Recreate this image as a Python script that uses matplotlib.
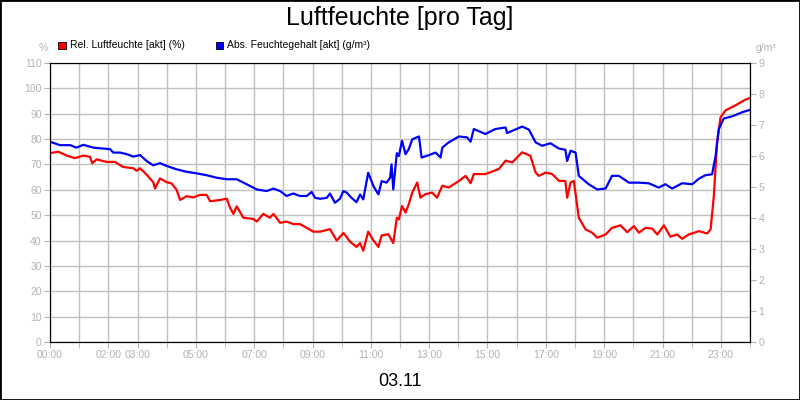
import matplotlib
matplotlib.use("Agg")
import matplotlib.pyplot as plt
from matplotlib.patches import Rectangle

plt.rcParams["font.family"] = ["Liberation Sans", "DejaVu Sans"]

# ---------------- data (hours of day) ----------------
rel_hours = [0.00, 0.29, 0.57, 0.86, 1.14, 1.37, 1.45, 1.60, 1.94, 2.23, 2.29, 2.51, 2.86, 2.97,
             3.09, 3.31, 3.54, 3.60, 3.77, 4.00, 4.17, 4.34, 4.46, 4.69, 4.91, 5.14, 5.37, 5.49,
             5.83, 6.06, 6.17, 6.29, 6.40, 6.63, 6.97, 7.09, 7.31, 7.54, 7.66, 7.89, 8.11, 8.34,
             8.57, 8.80, 9.03, 9.26, 9.60, 9.83, 10.06, 10.29, 10.51, 10.63, 10.74, 10.91, 11.09,
             11.26, 11.37, 11.60, 11.77, 11.89,
             11.96, 12.07, 12.19, 12.30, 12.42, 12.59, 12.70, 12.87, 13.10, 13.27, 13.45, 13.67,
             14.02, 14.25, 14.42, 14.53, 14.93, 15.39, 15.62, 15.85, 16.19, 16.47, 16.65, 16.76,
             16.99, 17.22, 17.45, 17.67, 17.73, 17.85, 17.96, 18.13, 18.36, 18.59, 18.76, 19.05,
             19.27, 19.56, 19.79, 20.02, 20.19, 20.42, 20.65, 20.82, 21.05, 21.27, 21.50, 21.67,
             21.90, 22.25, 22.53, 22.65, 22.76, 22.87, 22.99, 23.16, 23.50, 23.85, 24.00]
rel_values = [74.5, 75, 73.5, 72.5, 73.5, 73, 70.5, 72, 71, 71, 70.5, 69, 68.5, 67.5,
              68.5, 66, 63, 60.5, 64.5, 63, 62.5, 60, 56, 57.5, 57, 58, 58, 55.5,
              56, 56.5, 53, 50.5, 53.5, 49, 48.5, 47.5, 50.5, 49, 50.5, 47, 47.5, 46.5,
              46.5, 45, 43.5, 43.5, 44.5, 40, 43, 39.5, 37.5, 39, 36, 43.5, 40,
              37.5, 42, 42.5, 39, 49,
              48.3, 53.6, 51, 54.3, 58.9, 62.9, 56.9, 58.3, 58.9, 56.9, 61.6, 60.9,
              63.5, 65.5, 62.6, 66.2, 66.2, 68.2, 71.5, 70.8, 74.8, 73.4, 66.8, 65.5,
              66.8, 66.2, 63.5, 63.5, 56.9, 62.9, 63.5, 49, 44.4, 43.1, 41.1, 42.4,
              45, 46, 43.3, 45.7, 43.1, 45, 44.7, 42.4, 46, 41.5, 42.4, 40.7,
              42.4, 43.7, 42.8, 44.4, 57.6, 78.7, 88.6, 91.3, 93.3, 95.6, 96.2]

abs_hours = [0.00, 0.34, 0.69, 0.91, 1.14, 1.49, 1.71, 2.06, 2.17, 2.40, 2.63, 2.86, 3.09, 3.31,
             3.54, 3.77, 4.00, 4.34, 4.69, 5.03, 5.37, 5.71, 6.06, 6.40, 6.74, 7.09, 7.43, 7.66,
             7.89, 8.11, 8.34, 8.57, 8.80, 8.97, 9.09, 9.26, 9.49, 9.60, 9.77, 9.94, 10.06, 10.17,
             10.34, 10.51, 10.63, 10.74, 10.91, 11.09, 11.26, 11.37, 11.54, 11.66, 11.71, 11.77, 11.89,
             11.96, 12.07, 12.19, 12.30, 12.42, 12.65, 12.74, 12.99, 13.22, 13.39, 13.45, 13.67,
             14.02, 14.30, 14.42, 14.53, 14.93, 15.27, 15.62, 15.67, 16.19, 16.42, 16.65, 16.87,
             17.16, 17.45, 17.67, 17.73, 17.85, 18.02, 18.13, 18.47, 18.76, 19.05, 19.27, 19.50,
             19.85, 20.19, 20.53, 20.87, 21.10, 21.33, 21.67, 22.02, 22.25, 22.47, 22.70, 22.82,
             22.93, 23.10, 23.39, 23.73, 24.00]
abs_values = [6.46, 6.35, 6.35, 6.27, 6.36, 6.27, 6.25, 6.22, 6.11, 6.11, 6.06, 5.98, 6.03, 5.84,
              5.70, 5.77, 5.68, 5.57, 5.49, 5.44, 5.38, 5.30, 5.25, 5.25, 5.09, 4.92, 4.87, 4.95,
              4.87, 4.71, 4.79, 4.71, 4.71, 4.84, 4.65, 4.62, 4.65, 4.79, 4.49, 4.62, 4.87, 4.82,
              4.65, 4.51, 4.76, 4.60, 5.46, 5.03, 4.76, 5.19, 5.14, 5.30, 5.73, 4.92, 6.09,
              6.00, 6.49, 6.06, 6.22, 6.54, 6.63, 5.95, 6.03, 6.11, 5.95, 6.27, 6.44,
              6.63, 6.60, 6.46, 6.87, 6.71, 6.87, 6.92, 6.74, 6.95, 6.85, 6.44, 6.33,
              6.41, 6.24, 6.20, 5.84, 6.17, 6.11, 5.36, 5.09, 4.92, 4.95, 5.36, 5.36,
              5.14, 5.14, 5.12, 4.98, 5.09, 4.95, 5.12, 5.09, 5.27, 5.38, 5.41, 6.00,
              6.87, 7.21, 7.28, 7.41, 7.49]

tick_hours = [0, 2, 3, 5, 7, 9, 11, 13, 15, 17, 19, 21, 23]
tick_labels = ["00:00", "02:00", "03:00", "05:00", "07:00", "09:00", "11:00",
               "13:00", "15:00", "17:00", "19:00", "21:00", "23:00"]

# ---------------- plot ----------------
gray = "#b4b4b4"
fig = plt.figure(figsize=(8, 4), dpi=100)
fig.patches.append(Rectangle((0, 0), 1, 1, transform=fig.transFigure,
                             fill=False, edgecolor="black", linewidth=2))

ax = fig.add_axes([0.0625, 0.145, 0.875, 0.6975])
ax2 = ax.twinx()

ax.plot(rel_hours, rel_values, color="red", linewidth=1.6)
ax2.plot(abs_hours, abs_values, color="blue", linewidth=1.6)

ax.set_xlim(0, 24)
ax.set_ylim(0, 110)
ax2.set_ylim(0, 9)
ax.set_yticks(range(0, 111, 10))
ax2.set_yticks(range(0, 10))
ax.set_xticks(range(0, 25), minor=True)
ax.set_xticks(tick_hours)
ax.set_xticklabels(tick_labels)
ax.grid(True, which="both", axis="x", color="#c0c0c0", linewidth=1)
ax.grid(True, which="major", axis="y", color="#c0c0c0", linewidth=1)
ax.set_axisbelow(True)

for a in (ax, ax2):
    a.tick_params(which="both", direction="out", length=4, color=gray,
                  labelcolor=gray, labelsize=7.5, pad=2)
    for s in a.spines.values():
        s.set_color("black")
ax.tick_params(axis="x", which="minor", length=4)

fig.text(0.5, 0.955, "Luftfeuchte [pro Tag]", ha="center", va="center", fontsize=18)
fig.text(0.5, 0.045, "03.11", ha="center", va="center", fontsize=13)
fig.text(0.054, 0.88, "%", ha="center", va="center", fontsize=7.5, color=gray)
fig.text(0.958, 0.88, "g/m³", ha="center", va="center", fontsize=7.5, color=gray)

# legend drawn as small squares with labels
for xpos, col, lab in [(0.073, "red", "Rel. Luftfeuchte [akt] (%)"),
                       (0.27, "blue", "Abs. Feuchtegehalt [akt] (g/m³)")]:
    fig.patches.append(Rectangle((xpos, 0.878), 0.009, 0.018, transform=fig.transFigure,
                                 facecolor=col, edgecolor="black", linewidth=0.6))
    fig.text(xpos + 0.014, 0.887, lab, ha="left", va="center", fontsize=7.5)

fig.savefig("out.png", dpi=100)
